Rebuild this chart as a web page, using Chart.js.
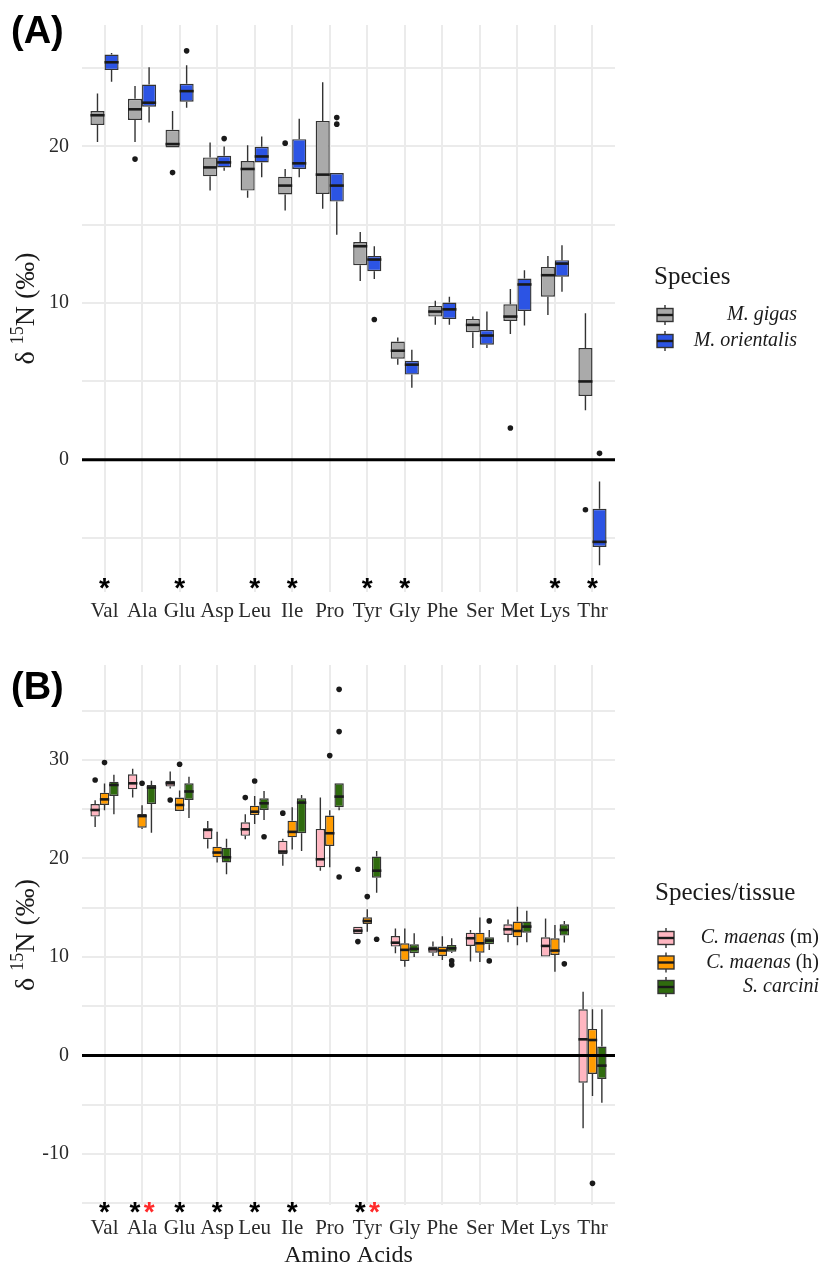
<!DOCTYPE html>
<html>
<head>
<meta charset="utf-8">
<script src="https://cdn.jsdelivr.net/npm/chart.js@4.4.1/dist/chart.umd.min.js"></script>
<style>
  body { margin: 0; background: #fff; }
  .wrap { position: relative; width: 825px; height: 1270px; }
  canvas { position: absolute; left: 0; }
</style>
</head>
<body>
<div class="wrap">
  <canvas id="chartA" width="825" height="640" style="top:0"></canvas>
  <canvas id="chartB" width="825" height="630" style="top:640px"></canvas>
</div>
<script>
const aminoAcids = ['Val', 'Ala', 'Glu', 'Asp', 'Leu', 'Ile', 'Pro', 'Tyr', 'Gly', 'Phe', 'Ser', 'Met', 'Lys', 'Thr'];

// (A) M. gigas
const gigasLo  = [20.29, 20.29, 19.93, 17.18, 16.72, 15.91, 16.02, 11.41, 6.07, 8.61, 7.13, 8.02, 9.24, 3.16];
const gigasQ1  = [21.37, 21.69, 19.93, 18.09, 17.18, 16.93, 16.97, 12.42, 6.45, 9.14, 8.14, 8.86, 10.41, 4.07];
const gigasMed = [21.99, 22.37, 20.15, 18.66, 18.56, 17.50, 18.20, 13.63, 6.96, 9.46, 8.61, 9.14, 11.78, 5.00];
const gigasQ3  = [22.26, 23.04, 21.06, 19.30, 19.07, 18.07, 21.63, 13.90, 7.55, 9.82, 8.99, 9.92, 12.31, 7.13];
const gigasHi  = [23.38, 23.85, 22.26, 20.25, 20.08, 18.56, 24.10, 14.54, 7.80, 10.15, 9.14, 10.90, 13.01, 9.35];
const gigasOut = [['Ala', 19.19], ['Glu', 18.33], ['Ile', 20.21], ['Met', 2.03], ['Thr', -3.19]];

// (A) M. orientalis
const orientLo  = [24.12, 21.52, 22.47, 18.45, 18.03, 18.03, 14.37, 11.53, 4.60, 8.61, 7.13, 8.57, 10.73, -6.73];
const orientQ1  = [24.87, 22.54, 22.85, 18.66, 18.98, 18.56, 16.48, 12.04, 5.44, 8.99, 7.34, 9.50, 11.68, -5.56];
const orientMed = [25.37, 22.79, 23.53, 18.98, 19.36, 18.92, 17.50, 12.78, 6.07, 9.60, 7.93, 11.19, 12.52, -5.24];
const orientQ3  = [25.86, 23.95, 24.00, 19.40, 19.98, 20.46, 18.30, 13.01, 6.32, 10.03, 8.29, 11.57, 12.74, -3.13];
const orientHi  = [25.97, 25.05, 25.18, 20.00, 20.63, 21.77, 18.30, 13.63, 7.02, 10.41, 9.46, 12.10, 13.69, -1.39];
const orientOut = [['Glu', 26.10], ['Asp', 20.50], ['Pro', 21.84], ['Pro', 21.42], ['Tyr', 8.95], ['Thr', 0.41]];

// (B) C. maenas (m)
const muscleLo  = [23.20, 26.20, 27.10, 21.00, 21.95, 19.27, 18.76, 12.33, 10.37, 10.10, 9.53, 11.50, 10.04, -7.39];
const muscleQ1  = [24.25, 27.02, 27.30, 21.95, 22.30, 20.42, 19.10, 12.33, 11.05, 10.44, 11.12, 12.24, 10.04, -2.76];
const muscleMed = [24.92, 27.63, 27.63, 22.90, 22.96, 20.70, 19.92, 12.67, 11.45, 10.78, 11.90, 12.81, 11.12, 1.64];
const muscleQ3  = [25.53, 28.54, 27.90, 23.06, 23.67, 21.80, 23.00, 13.08, 12.13, 11.05, 12.47, 13.32, 12.00, 4.69];
const muscleHi  = [25.90, 29.10, 28.82, 23.80, 24.50, 22.00, 26.18, 13.08, 12.90, 11.56, 12.74, 13.80, 13.90, 6.48];
const muscleOut = [['Val', 27.97], ['Glu', 25.94], ['Leu', 26.18], ['Ile', 24.60], ['Tyr', 11.56], ['Tyr', 18.90]];

// (B) C. maenas (h)
const hepatoLo  = [24.90, 23.00, 24.82, 19.60, 23.50, 20.90, 19.10, 12.57, 9.00, 9.70, 9.50, 11.20, 8.50, -4.11];
const hepatoQ1  = [25.43, 23.13, 24.82, 20.12, 24.40, 22.15, 21.27, 13.35, 9.60, 10.10, 10.44, 12.00, 10.20, -1.88];
const hepatoMed = [26.00, 24.30, 25.43, 20.60, 24.75, 22.70, 22.56, 13.65, 10.72, 10.65, 11.39, 12.64, 10.65, 1.57];
const hepatoQ3  = [26.68, 24.52, 26.18, 21.20, 25.36, 23.84, 24.35, 14.03, 11.39, 11.05, 12.47, 13.59, 11.90, 2.69];
const hepatoHi  = [27.60, 25.40, 26.90, 22.70, 26.35, 25.20, 24.90, 14.84, 12.90, 12.10, 14.00, 15.10, 13.25, 4.69];
const hepatoOut = [['Val', 29.73], ['Ala', 27.63], ['Glu', 29.56], ['Leu', 27.87], ['Pro', 30.44], ['Tyr', 16.13], ['Thr', -12.98]];

// (B) S. carcini
const carciniLo  = [24.50, 22.60, 24.10, 18.40, 23.90, 20.76, 24.90, 16.53, 10.00, 10.40, 10.70, 11.50, 11.46, -4.79];
const carciniQ1  = [26.35, 25.53, 25.94, 19.60, 24.92, 22.56, 25.20, 18.05, 10.38, 10.54, 11.29, 12.47, 12.17, -2.39];
const carciniMed = [27.46, 27.20, 26.80, 20.12, 25.60, 25.67, 26.28, 18.76, 10.82, 10.88, 11.66, 13.08, 12.74, -1.03];
const carciniQ3  = [27.80, 27.46, 27.63, 21.10, 26.10, 26.10, 27.63, 20.19, 11.29, 11.22, 12.00, 13.59, 13.32, 0.90];
const carciniHi  = [28.50, 27.90, 28.30, 22.00, 26.85, 26.45, 27.63, 20.76, 12.40, 11.90, 12.74, 14.70, 13.66, 4.69];
const carciniOut = [['Leu', 22.20], ['Pro', 37.17], ['Pro', 32.88], ['Pro', 18.12], ['Tyr', 11.80],
                    ['Phe', 9.60], ['Phe', 9.20], ['Ser', 13.66], ['Ser', 9.60], ['Lys', 9.30]];

// significance marks
const starsA = ['Val', 'Glu', 'Leu', 'Ile', 'Tyr', 'Gly', 'Lys', 'Thr'];
const starsB = ['Val', 'Ala', 'Glu', 'Asp', 'Leu', 'Ile', 'Tyr'];
const redStarsB = ['Ala', 'Tyr'];

const yTicksStep = 5;

const serif = '"Liberation Serif", "Times New Roman", serif';
const sans = '"Liberation Sans", Arial, sans-serif';

function boxDataset(label, color, lo, q1, med, q3, hi) {
    return {
        type: 'bar',
        label: label,
        data: q1.map((v, i) => ({ x: i, y: [v, q3[i]] })),
        backgroundColor: color,
        borderColor: '#333333',
        borderWidth: 1.4,
        borderSkipped: false,
        barPercentage: 1,
        categoryPercentage: 0.75,
        box: { lo: lo, med: med, hi: hi }
    };
}

function outlierDataset(points, k, n) {
    const shift = (k - (n - 1) / 2) * 0.75 / n; // dodge like the boxes
    return {
        type: 'scatter',
        data: points.map(p => ({ x: aminoAcids.indexOf(p[0]) + shift, y: p[1] })),
        pointRadius: 2.8,
        pointHoverRadius: 2.8,
        backgroundColor: '#1a1a1a',
        borderWidth: 0
    };
}

// whiskers, medians and the 0 line
const boxWhiskers = {
    id: 'boxWhiskers',
    afterDatasetsDraw(chart) {
        const { ctx, chartArea } = chart;
        const y = chart.scales.y;
        ctx.save();
        chart.data.datasets.forEach((ds, i) => {
            if (!ds.box) return;
            chart.getDatasetMeta(i).data.forEach((el, j) => {
                const top = Math.min(el.y, el.base);
                const bot = Math.max(el.y, el.base);
                ctx.strokeStyle = '#333333';
                ctx.lineWidth = 1.4;
                ctx.beginPath();
                ctx.moveTo(el.x, y.getPixelForValue(ds.box.hi[j]));
                ctx.lineTo(el.x, top);
                ctx.moveTo(el.x, bot);
                ctx.lineTo(el.x, y.getPixelForValue(ds.box.lo[j]));
                ctx.stroke();
                const m = y.getPixelForValue(ds.box.med[j]);
                ctx.strokeStyle = '#1a1a1a';
                ctx.lineWidth = 2.6;
                ctx.beginPath();
                ctx.moveTo(el.x - el.width / 2, m);
                ctx.lineTo(el.x + el.width / 2, m);
                ctx.stroke();
            });
        });
        const z = y.getPixelForValue(0);
        ctx.strokeStyle = '#000';
        ctx.lineWidth = 3;
        ctx.beginPath();
        ctx.moveTo(chartArea.left, z);
        ctx.lineTo(chartArea.right, z);
        ctx.stroke();
        ctx.restore();
    }
};

function drawYTitle(ctx, bx, cy) {
    ctx.save();
    ctx.translate(bx, cy);
    ctx.rotate(-Math.PI / 2);
    const big = '28px ' + serif, small = '18px ' + serif;
    const parts = [['δ ', big, 0], ['15', small, -11], ['N (‰)', big, 0]];
    let w = 0;
    parts.forEach(p => { ctx.font = p[1]; w += ctx.measureText(p[0]).width; });
    let px = -w / 2;
    ctx.textAlign = 'left';
    ctx.textBaseline = 'alphabetic';
    ctx.fillStyle = '#1a1a1a';
    parts.forEach(p => {
        ctx.font = p[1];
        ctx.fillText(p[0], px, p[2]);
        px += ctx.measureText(p[0]).width;
    });
    ctx.restore();
}

function drawStar(ctx, x, cy, color) {
    ctx.font = 'bold 28px ' + sans;
    ctx.fillStyle = color;
    ctx.textAlign = 'center';
    ctx.textBaseline = 'alphabetic';
    const m = ctx.measureText('*');
    const mid = (-m.actualBoundingBoxAscent + m.actualBoundingBoxDescent) / 2;
    ctx.fillText('*', x, cy - mid);
}

function drawKey(ctx, x, cy, color) {
    const w = 16, h = 13;
    ctx.strokeStyle = '#333333';
    ctx.lineWidth = 1.4;
    ctx.beginPath();
    ctx.moveTo(x + w / 2, cy - 10);
    ctx.lineTo(x + w / 2, cy + 10);
    ctx.stroke();
    ctx.fillStyle = color;
    ctx.fillRect(x, cy - h / 2, w, h);
    ctx.strokeRect(x, cy - h / 2, w, h);
    ctx.strokeStyle = '#1a1a1a';
    ctx.lineWidth = 2.4;
    ctx.beginPath();
    ctx.moveTo(x, cy);
    ctx.lineTo(x + w, cy);
    ctx.stroke();
}

function drawRuns(ctx, runs, right, cy, size) {
    let w = 0;
    runs.forEach(r => {
        ctx.font = (r.it ? 'italic ' : '') + size + 'px ' + serif;
        r.w = ctx.measureText(r.t).width;
        w += r.w;
    });
    let px = right - w;
    ctx.fillStyle = '#1a1a1a';
    ctx.textAlign = 'left';
    ctx.textBaseline = 'middle';
    runs.forEach(r => {
        ctx.font = (r.it ? 'italic ' : '') + size + 'px ' + serif;
        ctx.fillText(r.t, px, cy);
        px += r.w;
    });
}

function panelDecor(o) {
    return {
        id: 'panelDecor',
        afterDraw(chart) {
            const { ctx, chartArea } = chart;
            const x = chart.scales.x, y = chart.scales.y;
            ctx.save();
            // panel tag
            ctx.fillStyle = '#000';
            ctx.font = 'bold 38px ' + sans;
            ctx.textAlign = 'left';
            ctx.textBaseline = 'middle';
            ctx.fillText(o.tag, 11, o.tagY);
            drawYTitle(ctx, 34, (chartArea.top + chartArea.bottom) / 2);
            // asterisks
            o.stars.forEach(s => {
                const i = aminoAcids.indexOf(s.cat);
                drawStar(ctx, x.getPixelForValue(i + s.shift), y.getPixelForValue(o.starY), s.color);
            });
            // legend
            ctx.fillStyle = '#1a1a1a';
            ctx.font = '25px ' + serif;
            ctx.textAlign = 'left';
            ctx.textBaseline = 'middle';
            ctx.fillText(o.legendTitle, o.legendX - 3, o.legendTitleY);
            o.legendItems.forEach((it, k) => {
                const cy = o.legendY0 + k * o.legendStep;
                drawKey(ctx, o.legendX, cy, it.color);
                drawRuns(ctx, it.runs, o.legendRight, cy, 20);
            });
            ctx.restore();
        }
    };
}

function makeChart(canvas, datasets, yMin, yMax, area, xPad, xTitle, decor) {
    return new Chart(canvas, {
        type: 'bar',
        data: { datasets: datasets },
        options: {
            responsive: false,
            animation: false,
            events: [],
            layout: { padding: { left: 0, right: 825 - area.right, top: area.top, bottom: 0 } },
            scales: {
                x: {
                    type: 'linear',
                    min: -0.6,
                    max: 13.6,
                    offset: false,
                    grid: { color: '#ebebeb', lineWidth: 2, drawTicks: false, offset: false },
                    border: { display: false },
                    ticks: {
                        stepSize: 1,
                        includeBounds: false,
                        autoSkip: false,
                        maxRotation: 0,
                        minRotation: 0,
                        padding: xPad,
                        color: '#2a2a2a',
                        font: { family: serif, size: 21 },
                        callback: (v) => aminoAcids[v] !== undefined ? aminoAcids[v] : ''
                    },
                    title: {
                        display: !!xTitle,
                        text: xTitle,
                        color: '#1a1a1a',
                        font: { family: serif, size: 24 },
                        padding: { top: 0, bottom: 0 }
                    },
                    afterFit: (s) => { s.height = canvas.height - area.bottom; }
                },
                y: {
                    min: yMin,
                    max: yMax,
                    grid: { color: '#ebebeb', lineWidth: 2, drawTicks: false },
                    border: { display: false },
                    ticks: {
                        stepSize: yTicksStep,
                        includeBounds: false,
                        padding: 13,
                        color: '#2a2a2a',
                        font: { family: serif, size: 20 },
                        callback: (v) => (v % 10 === 0 ? v : '')
                    },
                    afterFit: (s) => { s.width = area.left; }
                }
            },
            plugins: {
                legend: { display: false },
                tooltip: { enabled: false }
            }
        },
        plugins: [boxWhiskers, decor]
    });
}

// panel (A)
const chartA = makeChart(
    document.getElementById('chartA'),
    [
        boxDataset('M. gigas', '#aaaaaa', gigasLo, gigasQ1, gigasMed, gigasQ3, gigasHi),
        boxDataset('M. orientalis', '#2c54e4', orientLo, orientQ1, orientMed, orientQ3, orientHi),
        outlierDataset(gigasOut, 0, 2),
        outlierDataset(orientOut, 1, 2)
    ],
    -8.44, 27.75,
    { left: 82, right: 615, top: 22, bottom: 592 },
    7, '',
    panelDecor({
        tag: '(A)', tagY: 33,
        stars: starsA.map(c => ({ cat: c, shift: 0, color: '#000' })),
        starY: -7.9,
        legendTitle: 'Species', legendTitleY: 277,
        legendX: 657, legendRight: 797, legendY0: 315, legendStep: 26,
        legendItems: [
            { color: '#aaaaaa', runs: [{ t: 'M. gigas', it: true }] },
            { color: '#2c54e4', runs: [{ t: 'M. orientalis', it: true }] }
        ]
    })
);

// panel (B)
const starMarksB = [];
starsB.forEach(c => starMarksB.push({ cat: c, shift: redStarsB.includes(c) ? -0.19 : 0, color: '#000' }));
redStarsB.forEach(c => starMarksB.push({ cat: c, shift: 0.19, color: '#ff2a2a' }));

const chartB = makeChart(
    document.getElementById('chartB'),
    [
        boxDataset('C. maenas (m)', '#ffb6c1', muscleLo, muscleQ1, muscleMed, muscleQ3, muscleHi),
        boxDataset('C. maenas (h)', '#ff9b00', hepatoLo, hepatoQ1, hepatoMed, hepatoQ3, hepatoHi),
        boxDataset('S. carcini', '#2f6b0e', carciniLo, carciniQ1, carciniMed, carciniQ3, carciniHi),
        outlierDataset(muscleOut, 0, 3),
        outlierDataset(hepatoOut, 1, 3),
        outlierDataset(carciniOut, 2, 3)
    ],
    -15.18, 39.64,
    { left: 82, right: 615, top: 25, bottom: 565 },
    11, 'Amino Acids',
    panelDecor({
        tag: '(B)', tagY: 49,
        stars: starMarksB,
        starY: -15.4,
        legendTitle: 'Species/tissue', legendTitleY: 253,
        legendX: 658, legendRight: 819, legendY0: 298, legendStep: 24.5,
        legendItems: [
            { color: '#ffb6c1', runs: [{ t: 'C. maenas', it: true }, { t: ' (m)', it: false }] },
            { color: '#ff9b00', runs: [{ t: 'C. maenas', it: true }, { t: ' (h)', it: false }] },
            { color: '#2f6b0e', runs: [{ t: 'S. carcini', it: true }] }
        ]
    })
);
</script>
</body>
</html>
